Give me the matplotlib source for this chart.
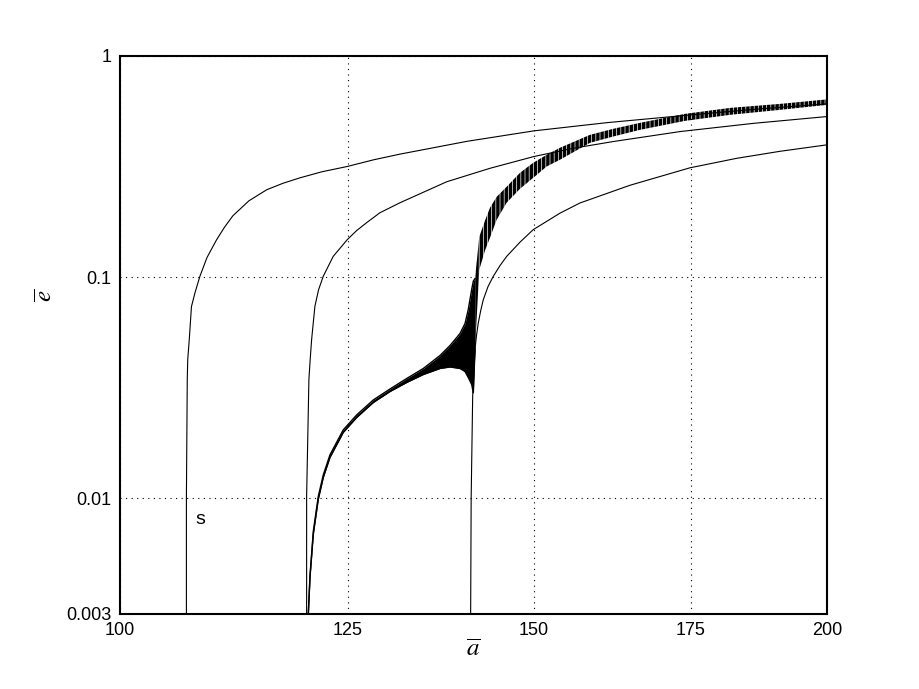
"""
Excentricidad media vs semieje mayor medio (escala log-log)
Tres curvas teóricas finas y una trayectoria numérica oscilante gruesa
"""

import matplotlib
matplotlib.use("Agg")
import matplotlib.pyplot as plt

plt.rcParams['font.family'] = ['Liberation Sans', 'DejaVu Sans']
plt.rcParams['mathtext.fontset'] = 'stix'
plt.rcParams['hatch.linewidth'] = 2.5

# curva s (la de la izquierda)
a_s = [106.73, 106.73, 106.82, 106.87, 107.03, 107.26, 107.63, 108.15, 108.9,
       109.94, 110.79, 111.71, 113.48, 115.47, 117.33, 119.30, 121.9, 124.96,
       128.23, 131.6, 140.52, 150.06, 161.2, 173.2, 186.1, 200]
e_s = [0.003, 0.0101, 0.0345, 0.0424, 0.0522, 0.0736, 0.0849, 0.1008, 0.1225,
       0.1477, 0.1681, 0.1895, 0.2214, 0.2483, 0.2657, 0.2812, 0.2995, 0.3164,
       0.3392, 0.3599, 0.4111, 0.4585, 0.4994, 0.536, 0.5733, 0.607]

# curva central
a_mid = [120.08, 120.08, 120.35, 120.5, 120.67, 121.06, 121.5, 122.05, 123.25,
         124.96, 126.1, 127.35, 129.03, 131.6, 137.76, 143.73, 150.06, 155.9,
         162.21, 173.2, 186.1, 200]
e_mid = [0.003, 0.0102, 0.0345, 0.0424, 0.0522, 0.0738, 0.0878, 0.1008, 0.1241,
         0.1477, 0.1622, 0.1762, 0.1955, 0.217, 0.2699, 0.3105, 0.351, 0.3823,
         0.4103, 0.4552, 0.4958, 0.5321]

# curva derecha
a_der = [141.03, 141.1, 141.31, 141.47, 141.63, 141.84, 142.09, 142.43, 142.79,
         143.45, 144.19, 145.14, 146.1, 148.02, 149.95, 153.92, 156.97, 164.87,
         174.86, 183.06, 191.0, 200]
e_der = [0.003, 0.01, 0.029, 0.0374, 0.0471, 0.0544, 0.0621, 0.0706, 0.0791,
         0.0906, 0.1008, 0.1127, 0.1241, 0.1439, 0.1639, 0.1945, 0.2163, 0.2602,
         0.3121, 0.3445, 0.3706, 0.3964]

# trayectoria numerica: envolventes superior e inferior de la oscilacion
tray_a = [120.28, 120.48, 120.87, 121.46, 122.06, 122.86, 124.47, 126.12, 128.19,
          130.31, 132.46, 134.63, 136.85, 138.2, 139.56, 140.25, 140.7, 141.17,
          141.4, 141.63, 142.23, 143.02, 143.73, 144.68, 146.1, 148.02, 149.95,
          151.94, 153.92, 158.53, 162.15, 166.5, 174.01, 181.86, 191.0, 200]
tray_sup = [0.003, 0.00449, 0.0071, 0.0102, 0.01277, 0.01572, 0.02039, 0.02382,
            0.02784, 0.03121, 0.03481, 0.03863, 0.04421, 0.04905, 0.05557, 0.06165,
            0.07135, 0.08781, 0.096, 0.0985, 0.1524, 0.1799, 0.206, 0.2309, 0.2563,
            0.2963, 0.3288, 0.3573, 0.3842, 0.4398, 0.468, 0.4983, 0.5473,
            0.5823, 0.6071, 0.6362]
tray_inf = [0.003, 0.0044, 0.00688, 0.0099, 0.01244, 0.01531, 0.01986, 0.0232,
            0.02712, 0.0304, 0.0334, 0.03628, 0.03863, 0.03924, 0.03863, 0.03744,
            0.03518, 0.03271, 0.030, 0.047, 0.1081, 0.1317, 0.1508, 0.1818, 0.217,
            0.2509, 0.2812, 0.3164, 0.3392, 0.4047, 0.432, 0.4634, 0.5087,
            0.5417, 0.5705, 0.6008]
inicio_osc = 19  # desde aqui la oscilacion se ve como dientes

xticks = [100, 125, 150, 175, 200]
yticks = [0.003, 0.01, 0.1, 1]
ytick_labels = ['0.003', '0.01', '0.1', '1']

fig = plt.figure(figsize=(9.2, 6.89), dpi=100)
ax = fig.add_axes([0.1304, 0.1089, 0.7685, 0.8099])

# curvas finas
for a, e in [(a_s, e_s), (a_mid, e_mid), (a_der, e_der)]:
    ax.plot(a, e, color='black', linewidth=0.8)

# tramo solido de la trayectoria
n = inicio_osc + 1
ax.fill_between(tray_a[:n], tray_inf[:n], tray_sup[:n], color='black', linewidth=0)
ax.plot(tray_a[:n], tray_sup[:n], color='black', linewidth=1.0)
ax.plot(tray_a[:n], tray_inf[:n], color='black', linewidth=1.0)

# tramo oscilante (dientes)
ax.fill_between(tray_a[inicio_osc:], tray_inf[inicio_osc:], tray_sup[inicio_osc:],
                facecolor='none', edgecolor='black', hatch='||||', linewidth=0)

ax.text(108.15, 0.008, 's', fontsize=14, ha='center', va='center')

ax.set_xscale('log')
ax.set_yscale('log')
ax.set_xlim(100, 200)
ax.set_ylim(0.003, 1)
ax.set_xticks(xticks)
ax.set_xticklabels([str(t) for t in xticks])
ax.set_yticks(yticks)
ax.set_yticklabels(ytick_labels)
ax.minorticks_off()
ax.tick_params(length=0, labelsize=13, pad=6)
ax.grid(True, color='black', linestyle=(0, (1, 4)), linewidth=0.8)
for sp in ax.spines.values():
    sp.set_linewidth(1.5)

ax.set_xlabel(r'$\overline{a}$', fontsize=18)
ax.xaxis.set_label_coords(0.5, -0.062)
ax.xaxis.label.set_va('center')
ax.set_ylabel(r'$\overline{e}$', fontsize=18)
ax.yaxis.set_label_coords(-0.106, 0.57)
ax.yaxis.label.set_va('center')

plt.savefig('out.png', dpi=100)
plt.close()
